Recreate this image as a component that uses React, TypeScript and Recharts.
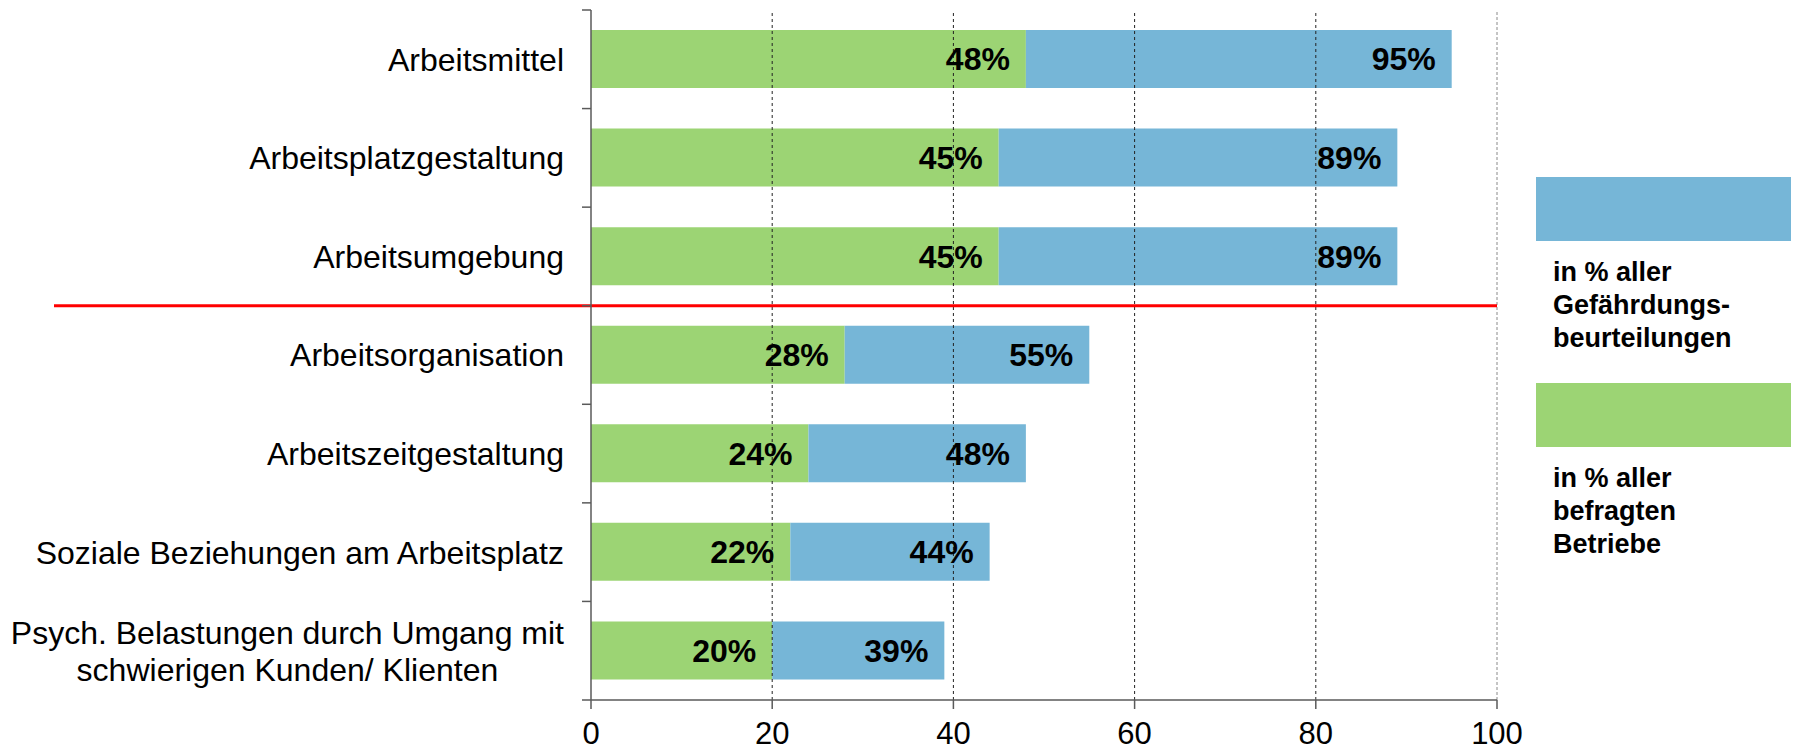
import React from 'react';
import { BarChart, Bar, XAxis, YAxis, ReferenceLine, LabelList, Legend } from 'recharts';

const categories = [
  'Arbeitsmittel',
  'Arbeitsplatzgestaltung',
  'Arbeitsumgebung',
  'Arbeitsorganisation',
  'Arbeitszeitgestaltung',
  'Soziale Beziehungen am Arbeitsplatz',
  'Psych. Belastungen durch Umgang mit\nschwierigen Kunden/ Klienten',
];
const betriebeValues = [48, 45, 45, 28, 24, 22, 20];
const gefaehrdungValues = [95, 89, 89, 55, 48, 44, 39];
const xTicks = [0, 20, 40, 60, 80, 100];
const legendGefaehrdung = ['in % aller', 'Gefährdungs-', 'beurteilungen'];
const legendBetriebe = ['in % aller', 'befragten', 'Betriebe'];
const dividerAfterIndex = 3;

const FONT = "'Liberation Sans', Arial, Helvetica, sans-serif";
const GREEN = '#9cd474';
const BLUE = '#76b6d7';
const AXIS = '#5a5a5a';

const W = 1797;
const H = 753;
const MARGIN = { top: 10, right: 300, bottom: 0, left: 0 };
const X_AXIS_H = 53;
const Y_AXIS_W = 591;
const TICK_SIZE = 9;
const TICK_MARGIN = 18;
const PLOT_H = H - MARGIN.top - MARGIN.bottom - X_AXIS_H;
const BAND = PLOT_H / categories.length;
const RED_LINE_LEFT = 54;

const data = categories.map((name, i) => ({
  name,
  betriebe: betriebeValues[i],
  rest: gefaehrdungValues[i] - betriebeValues[i],
  total: gefaehrdungValues[i],
}));

let canvasCtx: CanvasRenderingContext2D | null = null;
function measure(text: string, size: number): number {
  if (!canvasCtx) {
    const c = document.createElement('canvas');
    canvasCtx = c.getContext('2d');
  }
  if (!canvasCtx) return text.length * size * 0.5;
  canvasCtx.font = `${size}px ${FONT}`;
  return canvasCtx.measureText(text).width;
}

const YTick = (props: any) => {
  const { x, y, payload, index } = props;
  const axisX = x + TICK_SIZE + TICK_MARGIN;
  const lines = String(payload.value).split('\n');
  const fs = 32;
  const lh = 37;
  let textEl;
  if (lines.length === 1) {
    textEl = (
      <text x={x} y={y} dy="0.355em" textAnchor="end" fill="#000" fontSize={fs} fontFamily={FONT}>
        {lines[0]}
      </text>
    );
  } else {
    const maxW = Math.max(...lines.map((l) => measure(l, fs)));
    const cx = x - maxW / 2;
    const startY = y - ((lines.length - 1) * lh) / 2;
    textEl = (
      <text textAnchor="middle" fill="#000" fontSize={fs} fontFamily={FONT}>
        {lines.map((l, i) => (
          <tspan key={i} x={cx} y={startY + i * lh} dy="0.355em">
            {l}
          </tspan>
        ))}
      </text>
    );
  }
  return (
    <g>
      <line x1={axisX - TICK_SIZE} x2={axisX} y1={y - BAND / 2} y2={y - BAND / 2} stroke={AXIS} strokeWidth={1.5} />
      {index === categories.length - 1 && (
        <line x1={axisX - TICK_SIZE} x2={axisX} y1={y + BAND / 2} y2={y + BAND / 2} stroke={AXIS} strokeWidth={1.5} />
      )}
      {textEl}
    </g>
  );
};

const LegendContent = () => {
  const items = [
    { color: BLUE, lines: legendGefaehrdung },
    { color: GREEN, lines: legendBetriebe },
  ];
  return (
    <div style={{ fontFamily: FONT }}>
      {items.map((it, i) => (
        <div key={i} style={{ marginBottom: i === 0 ? 28 : 0 }}>
          <div style={{ width: 255, height: 64, background: it.color }} />
          <div
            style={{
              marginTop: 15,
              paddingLeft: 17,
              fontSize: 27,
              lineHeight: '33px',
              fontWeight: 'bold',
              color: '#000',
              whiteSpace: 'nowrap',
            }}
          >
            {it.lines.map((l, j) => (
              <div key={j}>{l}</div>
            ))}
          </div>
        </div>
      ))}
    </div>
  );
};

const pct = (v: any) => `${v}%`;

export default function App() {
  return (
    <div style={{ position: 'absolute', left: 0, top: 0, width: W, height: H, background: '#fff' }}>
      <BarChart width={W} height={H} data={data} layout="vertical" margin={MARGIN} barSize={58}>
        <XAxis
          type="number"
          domain={[0, 100]}
          ticks={xTicks}
          interval={0}
          height={X_AXIS_H}
          tickSize={TICK_SIZE}
          tickMargin={13}
          axisLine={{ stroke: AXIS, strokeWidth: 1.5 }}
          tickLine={{ stroke: AXIS, strokeWidth: 1.5 }}
          tick={{ fill: '#000', fontSize: 31, fontFamily: FONT }}
        />
        <YAxis
          type="category"
          dataKey="name"
          width={Y_AXIS_W}
          interval={0}
          tickSize={TICK_SIZE}
          tickMargin={TICK_MARGIN}
          tickLine={false}
          axisLine={{ stroke: AXIS, strokeWidth: 1.5 }}
          tick={<YTick />}
        />
        {xTicks.slice(1).map((v) => (
          <ReferenceLine
            key={v}
            x={v}
            stroke={v === 100 ? '#8a8a8a' : '#222'}
            strokeWidth={1}
            strokeDasharray={v === 100 ? '3 2' : '3 3'}
          />
        ))}
        <Bar dataKey="betriebe" stackId="s" fill={GREEN} isAnimationActive={false}>
          <LabelList
            dataKey="betriebe"
            position="insideRight"
            offset={16}
            formatter={pct}
            fill="#000"
            fontSize={32}
            fontWeight="bold"
            fontFamily={FONT}
          />
        </Bar>
        <Bar dataKey="rest" stackId="s" fill={BLUE} isAnimationActive={false}>
          <LabelList
            dataKey="total"
            position="insideRight"
            offset={16}
            formatter={pct}
            fill="#000"
            fontSize={32}
            fontWeight="bold"
            fontFamily={FONT}
          />
        </Bar>
        <ReferenceLine
          y={categories[dividerAfterIndex]}
          position="start"
          stroke="#ff0000"
          strokeWidth={3}
          shape={(p: any) => (
            <line x1={RED_LINE_LEFT} y1={p.y1} x2={p.x2} y2={p.y2} stroke="#ff0000" strokeWidth={3} />
          )}
        />
        <Legend
          layout="horizontal"
          verticalAlign="middle"
          align="center"
          content={<LegendContent />}
          wrapperStyle={{ left: 1536, top: 177, width: 261, height: 400 }}
        />
      </BarChart>
    </div>
  );
}
